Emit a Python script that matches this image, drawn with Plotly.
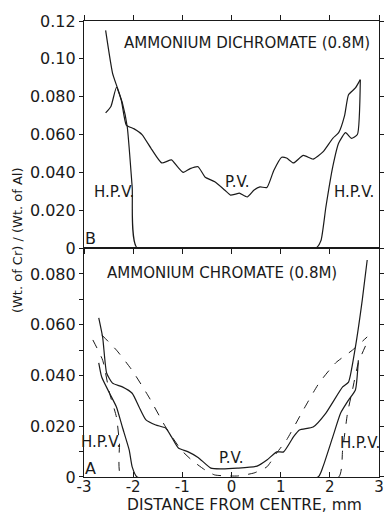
import plotly.graph_objects as go

# ---- Panel B: ammonium dichromate (0.8M) ----
b_pv_x = [-2.56, -2.45, -2.34, -2.24, -2.14, -1.98, -1.82, -1.62, -1.42, -1.22, -1.1, -0.98, -0.84, -0.68,
          -0.54, -0.34, -0.14, -0.02, 0.08, 0.16, 0.32, 0.46, 0.58, 0.72, 0.86, 1.02, 1.12, 1.26, 1.46,
          1.66, 1.86, 2.06, 2.18, 2.3, 2.38, 2.52, 2.62]
b_pv_y = [0.0714, 0.075, 0.085, 0.078, 0.065, 0.063, 0.060, 0.052, 0.045, 0.0466, 0.043, 0.040, 0.042, 0.043,
          0.0376, 0.035, 0.0307, 0.028, 0.0285, 0.029, 0.027, 0.0307, 0.0323, 0.032, 0.041, 0.048, 0.0476,
          0.045, 0.049, 0.047, 0.0508, 0.058, 0.061, 0.070, 0.081, 0.0846, 0.089]

b_hpv_x = [-2.56, -2.42, -2.32, -2.22, -2.12, -2.02, -1.92, 1.72, 1.82, 1.92, 2.06, 2.18, 2.32, 2.44, 2.56, 2.62]
b_hpv_y = [0.115, 0.0925, 0.0846, 0.0767, 0.064, 0.0323, 0.0, 0.0, 0.004, 0.0217, 0.043, 0.0555, 0.061, 0.058, 0.060, 0.089]

# ---- Panel A: ammonium chromate (0.8M) ----
a_pv_x = [-2.7, -2.62, -2.54, -2.42, -2.22, -2.02, -1.88, -1.74, -1.54, -1.34, -1.22, -1.08, -0.88, -0.68,
          -0.42, -0.22, 0.12, 0.52, 0.72, 0.92, 1.06, 1.26, 1.38, 1.66, 1.92, 2.26, 2.38, 2.52, 2.66, 2.76]
a_pv_y = [0.0627, 0.055, 0.041, 0.037, 0.0355, 0.033, 0.0276, 0.0225, 0.0205, 0.0193, 0.0158, 0.0114, 0.0099, 0.0077,
          0.0035, 0.0032, 0.0035, 0.0043, 0.0067, 0.0099, 0.0099, 0.0158, 0.0185, 0.0197, 0.0252, 0.0355, 0.0374,
          0.0512, 0.0698, 0.0855]

a_hpv_x = [-2.7, -2.64, -2.48, -2.34, -2.22, -2.08, -2.02, -1.92, 1.76, 1.86, 2.06, 2.22, 2.38, 2.52, 2.58]
a_hpv_y = [0.045, 0.0394, 0.033, 0.0276, 0.0197, 0.0106, 0.004, 0.0, 0.0, 0.004, 0.0158, 0.0252, 0.0303, 0.0343, 0.046]

a_pv_dash_x = [-2.64, -2.34, -2.02, -1.68, -1.34, -1.02, -0.8, -0.54, -0.34, 0.12, 0.46, 0.72, 0.92, 1.12,
               1.46, 1.78, 2.12, 2.46, 2.76]
a_pv_dash_y = [0.056, 0.050, 0.042, 0.0315, 0.0197, 0.0106, 0.0065, 0.0028, 0.0008, 0.0004, 0.0016, 0.004, 0.0095,
               0.0146, 0.0264, 0.037, 0.045, 0.050, 0.0552]

a_hpv_dash_x = [-2.82, -2.62, -2.48, -2.34, -2.28, -2.24, 2.18, 2.26, 2.36, 2.46, 2.58, 2.78]
a_hpv_dash_y = [0.054, 0.046, 0.033, 0.0236, 0.0134, 0.0, 0.0, 0.0106, 0.0252, 0.0343, 0.045, 0.054]

x_ticks = [-3, -2, -1, 0, 1, 2, 3]
x_ticktext = ["-3", "-2", "-1", "0", "1", "2", "3"]
b_yticks = [0, 0.02, 0.04, 0.06, 0.08, 0.10, 0.12]
b_yticktext = ["0", "0.020", "0.040", "0.060", "0.080", "0.10", "0.12"]
a_yticks = [0, 0.02, 0.04, 0.06, 0.08]
a_yticktext = ["0", "0.020", "0.040", "0.060", "0.080"]

FONT = "DejaVu Sans"
ink = "#1a1a1a"
lw = 1.2

fig = go.Figure()
sp = dict(mode="lines", line=dict(color=ink, width=lw, shape="spline", smoothing=0.5), showlegend=False, hoverinfo="skip")

fig.add_trace(go.Scatter(x=b_pv_x, y=b_pv_y, xaxis="x2", yaxis="y2", **sp))
fig.add_trace(go.Scatter(x=b_hpv_x, y=b_hpv_y, xaxis="x2", yaxis="y2", **sp))
fig.add_trace(go.Scatter(x=a_pv_x, y=a_pv_y, xaxis="x", yaxis="y", **sp))
fig.add_trace(go.Scatter(x=a_hpv_x, y=a_hpv_y, xaxis="x", yaxis="y", **sp))
dsp = dict(mode="lines", line=dict(color=ink, width=1.0, dash="dash", shape="spline", smoothing=0.5), showlegend=False, hoverinfo="skip")
fig.add_trace(go.Scatter(x=a_pv_dash_x, y=a_pv_dash_y, xaxis="x", yaxis="y", **dsp))
fig.add_trace(go.Scatter(x=a_hpv_dash_x, y=a_hpv_dash_y, xaxis="x", yaxis="y", **dsp))

tickfont = dict(family=FONT, size=16, color=ink)
xtickfont = dict(family=FONT, size=15, color=ink)
split = 0.502

fig.update_layout(
    width=389, height=516,
    margin=dict(l=84, r=5, t=21, b=39),
    paper_bgcolor="white", plot_bgcolor="white",
    font=dict(family=FONT, color=ink),
    xaxis=dict(domain=[0, 1], range=[-3, 3], tickvals=x_ticks, ticktext=x_ticktext,
               ticks="inside", ticklen=5, tickcolor=ink, showline=True, linecolor=ink, linewidth=1.2,
               mirror="ticks", showgrid=False, zeroline=False, tickfont=xtickfont, anchor="y",
               ticklabelstandoff=-4),
    yaxis=dict(domain=[0, split], range=[0, 0.0902], tickvals=a_yticks, ticktext=a_yticktext,
               ticks="outside", ticklen=4, tickcolor=ink, showline=True, linecolor=ink, linewidth=1.2,
               mirror="ticks", showgrid=False, zeroline=False, tickfont=tickfont, anchor="x",
               minor=dict(dtick=0.01, tick0=0, ticks="outside", ticklen=4, tickcolor=ink)),
    xaxis2=dict(domain=[0, 1], range=[-3, 3], tickvals=x_ticks, showticklabels=False,
                ticks="outside", ticklen=5, tickcolor=ink, showline=True, linecolor=ink, linewidth=1.2,
                mirror="ticks", showgrid=False, zeroline=False, anchor="y2"),
    yaxis2=dict(domain=[split, 1], range=[0, 0.12], tickvals=b_yticks, ticktext=b_yticktext,
                ticks="outside", ticklen=4, tickcolor=ink, showline=True, linecolor=ink, linewidth=1.2,
                mirror="ticks", showgrid=False, zeroline=False, tickfont=tickfont, anchor="x2"),
)

lab = dict(family=FONT, size=15, color=ink)
ann = []
# panel B labels
ann.append(dict(x=0.31, y=0.1085, xref="x2", yref="y2", text="AMMONIUM DICHROMATE (0.8M)", showarrow=False, font=lab))
ann.append(dict(x=-2.4, y=0.0296, xref="x2", yref="y2", text="H.P.V.", showarrow=False, font=lab))
ann.append(dict(x=0.12, y=0.035, xref="x2", yref="y2", text="P.V.", showarrow=False, font=lab))
ann.append(dict(x=2.5, y=0.0296, xref="x2", yref="y2", text="H.P.V.", showarrow=False, font=lab))
ann.append(dict(x=-2.86, y=0.0053, xref="x2", yref="y2", text="B", showarrow=False, font=dict(family=FONT, size=16, color=ink)))
# panel A labels
ann.append(dict(x=-0.2, y=0.0805, xref="x", yref="y", text="AMMONIUM CHROMATE (0.8M)", showarrow=False, font=lab))
ann.append(dict(x=-2.66, y=0.0138, xref="x", yref="y", text="H.P.V.", showarrow=False, font=lab))
ann.append(dict(x=0.01, y=0.0075, xref="x", yref="y", text="P.V.", showarrow=False, font=lab))
ann.append(dict(x=2.62, y=0.0134, xref="x", yref="y", text="H.P.V.", showarrow=False, font=lab))
ann.append(dict(x=-2.86, y=0.0035, xref="x", yref="y", text="A", showarrow=False, font=dict(family=FONT, size=16, color=ink)))
# axis titles
ann.append(dict(x=-0.223, y=0.52, xref="paper", yref="paper", xanchor="center", yanchor="middle",
                text="(Wt. of Cr) / (Wt. of Al)", textangle=-90,
                showarrow=False, font=dict(family=FONT, size=13, color=ink)))
ann.append(dict(x=0.543, y=-0.0855, xref="paper", yref="paper", xanchor="center", yanchor="bottom",
                text="DISTANCE FROM CENTRE, mm", showarrow=False, font=dict(family=FONT, size=15.5, color=ink)))
fig.update_layout(annotations=ann)

fig.write_html("out.html")
